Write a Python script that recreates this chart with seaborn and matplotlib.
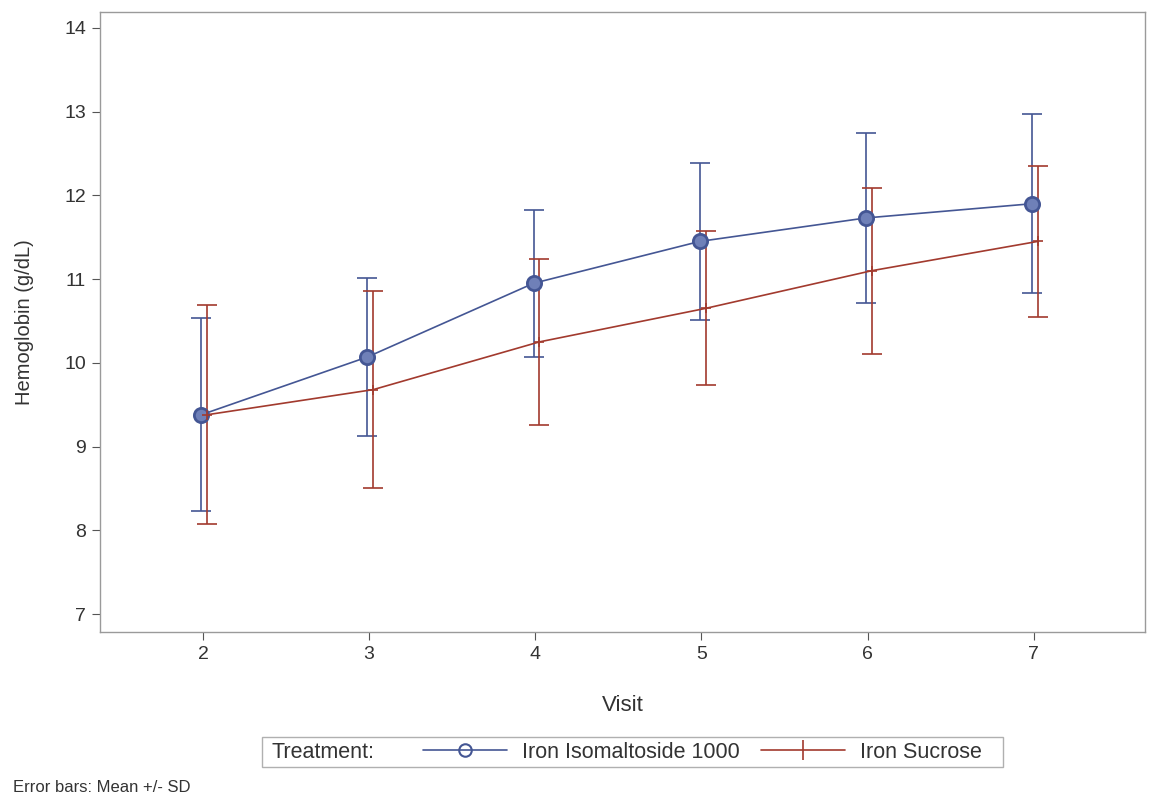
import numpy as np
import pandas as pd
import matplotlib.pyplot as plt
import seaborn as sns
from matplotlib.lines import Line2D
from matplotlib.patches import Rectangle

visits = [2, 3, 4, 5, 6, 7]
iso_mean = [9.38, 10.07, 10.95, 11.45, 11.73, 11.90]
iso_sd = [1.15, 0.94, 0.88, 0.94, 1.01, 1.07]
suc_mean = [9.38, 9.68, 10.25, 10.65, 11.10, 11.45]
suc_sd = [1.31, 1.18, 0.99, 0.92, 0.99, 0.90]
treatments = ["Iron Isomaltoside 1000", "Iron Sucrose"]

blue = "#445694"
red = "#A23A2E"

df = pd.concat([
    pd.DataFrame({"Visit": visits, "Hb": iso_mean, "sd": iso_sd, "Treatment": treatments[0]}),
    pd.DataFrame({"Visit": visits, "Hb": suc_mean, "sd": suc_sd, "Treatment": treatments[1]}),
])
# small dodge so the bars don't sit on top of each other
df["x"] = df["Visit"] + df["Treatment"].map({treatments[0]: -0.01, treatments[1]: 0.025})

sns.set_style("white")
plt.rcParams["font.family"] = ["Liberation Sans", "DejaVu Sans"]
txt = "#333333"

fig = plt.figure(figsize=(11.56, 7.98), dpi=100)
ax = fig.add_axes([0.0865, 0.208, 0.904, 0.777])

for name, col in zip(treatments, [blue, red]):
    d = df[df["Treatment"] == name]
    ax.errorbar(d["x"], d["Hb"], yerr=d["sd"], fmt="none", ecolor=col,
                elinewidth=1.2, capsize=7, capthick=1.2, zorder=2)

sns.lineplot(data=df, x="x", y="Hb", hue="Treatment", palette=[blue, red],
             errorbar=None, linewidth=1.2, legend=False, ax=ax, zorder=3)

d = df[df["Treatment"] == treatments[0]]
ax.scatter(d["x"], d["Hb"], s=105, facecolor="#6f80b8", edgecolor=blue, linewidth=2, zorder=4)
d = df[df["Treatment"] == treatments[1]]
ax.scatter(d["x"], d["Hb"], s=55, marker="+", color=red, linewidth=1.2, zorder=4)

ax.set_xlim(1.38, 7.67)
ax.set_ylim(6.785, 14.19)
ax.set_xticks(visits)
ax.set_yticks(range(7, 15))
ax.tick_params(axis="both", labelsize=14, colors="#555555", length=6, width=0.8,
               left=True, bottom=True, labelcolor=txt, pad=4)
for s in ax.spines.values():
    s.set_color("#9a9a9a")
    s.set_linewidth(1)
ax.set_xlabel("Visit", fontsize=16, color=txt, labelpad=23)
ax.set_ylabel("Hemoglobin (g/dL)", fontsize=14.5, color=txt, labelpad=22)

# legend: frame and "Treatment:" label drawn around a two-entry legend
fig.add_artist(Rectangle((262 / 1156, 31 / 798), 741 / 1156, 30 / 798,
                         transform=fig.transFigure, fill=False,
                         edgecolor="#b0b0b0", linewidth=1))
fig.text(272 / 1156, 0.0576, "Treatment:", fontsize=15.5, color=txt, va="center")
handles = [
    Line2D([], [], color=blue, marker="o", markerfacecolor="none", markersize=9,
           markeredgewidth=1.5, linewidth=1.2, label=treatments[0]),
    Line2D([], [], color=red, marker="|", markersize=14, markeredgewidth=1.2,
           linewidth=1.2, label=treatments[1]),
]
leg = fig.legend(handles=handles, loc="center left", bbox_to_anchor=(423 / 1156, 0.0576),
                 ncol=2, frameon=False, fontsize=15.5, handlelength=3.9,
                 handletextpad=0.7, columnspacing=1.0, borderpad=0, borderaxespad=0)
for t in leg.get_texts():
    t.set_color(txt)

fig.text(0.011, 0.008, "Error bars: Mean +/- SD", fontsize=12, color=txt)

fig.savefig("out.png", dpi=100)
